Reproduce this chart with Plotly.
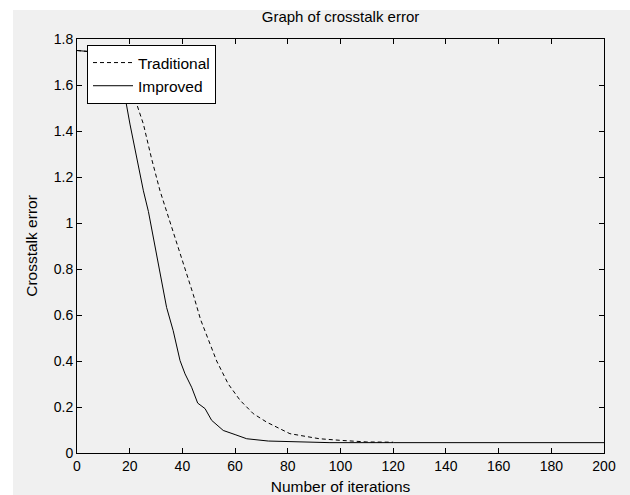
import plotly.graph_objects as go

# Data
trad_x = [0, 10, 16, 21.7, 25.2, 28.3, 31.5, 34, 36.9, 41, 44.1, 46.9, 53, 57.4, 61.9, 66.9, 72, 80.8, 86, 92, 100, 110, 120]
trad_y = [1.75, 1.74, 1.68, 1.55, 1.43, 1.28, 1.14, 1.05, 0.95, 0.807, 0.69, 0.58, 0.40, 0.30, 0.229, 0.171, 0.134, 0.084, 0.074, 0.062, 0.055, 0.048, 0.047]

impr_x = [0, 10, 15, 18.2, 20.1, 22.7, 25.2, 27.1, 30, 31.5, 34, 36.5, 39.1, 41, 43.5, 45.8, 48.6, 51.1, 55.5, 60, 64.4, 72.6, 84.6, 96, 120, 160, 200]
impr_y = [1.75, 1.74, 1.66, 1.55, 1.43, 1.284, 1.14, 1.05, 0.879, 0.79, 0.633, 0.532, 0.402, 0.344, 0.286, 0.217, 0.193, 0.142, 0.098, 0.08, 0.062, 0.052, 0.048, 0.045, 0.045, 0.045, 0.045]

x_ticks = list(range(0, 201, 20))
y_ticks = [0, 0.2, 0.4, 0.6, 0.8, 1, 1.2, 1.4, 1.6, 1.8]
y_ticklabels = ["0", "0.2", "0.4", "0.6", "0.8", "1", "1.2", "1.4", "1.6", "1.8"]

FONT = "Liberation Sans, Arial, sans-serif"
LBL = 15.5

fig = go.Figure()
fig.add_trace(go.Scatter(x=trad_x, y=trad_y, mode="lines", name="Traditional",
                         line=dict(color="black", width=1, dash="4px,3px")))
fig.add_trace(go.Scatter(x=impr_x, y=impr_y, mode="lines", name="Improved",
                         line=dict(color="black", width=1)))

axis_common = dict(showline=True, linecolor="black", linewidth=1, mirror="ticks",
                   ticks="inside", ticklen=5, tickcolor="black", showgrid=False,
                   zeroline=False, automargin=False,
                   tickfont=dict(family=FONT, size=14, color="black"))

fig.update_layout(
    width=630, height=495,
    margin=dict(l=77, r=26, t=39, b=42),
    paper_bgcolor="white",
    plot_bgcolor="white",
    font=dict(family=FONT, size=14, color="black"),
    title=dict(text="Graph of crosstalk error", x=0.5, xref="paper", xanchor="center",
               y=1 - 17 / 495, yanchor="middle", font=dict(family=FONT, size=15, color="black")),
    xaxis=dict(range=[0, 200], tickvals=x_ticks,
               title=dict(text="Number of iterations", standoff=8,
                          font=dict(family=FONT, size=LBL, color="black")),
               **axis_common),
    yaxis=dict(range=[0, 1.8], tickvals=y_ticks, ticktext=y_ticklabels,
               title=dict(text="Crosstalk error", standoff=12,
                          font=dict(family=FONT, size=LBL, color="black")),
               **axis_common),
    legend=dict(x=(87 - 77) / 527, y=1 - (45 - 39) / 414, xanchor="left", yanchor="top",
                bgcolor="white", bordercolor="black", borderwidth=1,
                font=dict(family=FONT, size=LBL, color="black"),
                tracegroupgap=0, itemwidth=40),
    showlegend=True,
    shapes=[dict(type="rect", xref="paper", yref="paper",
                 x0=(13 - 77) / 527, x1=1.2, y0=-0.3, y1=(453 - 10) / 414,
                 fillcolor="#f0f0f0", line=dict(width=0), layer="below")],
)

fig.write_html("out.html")
